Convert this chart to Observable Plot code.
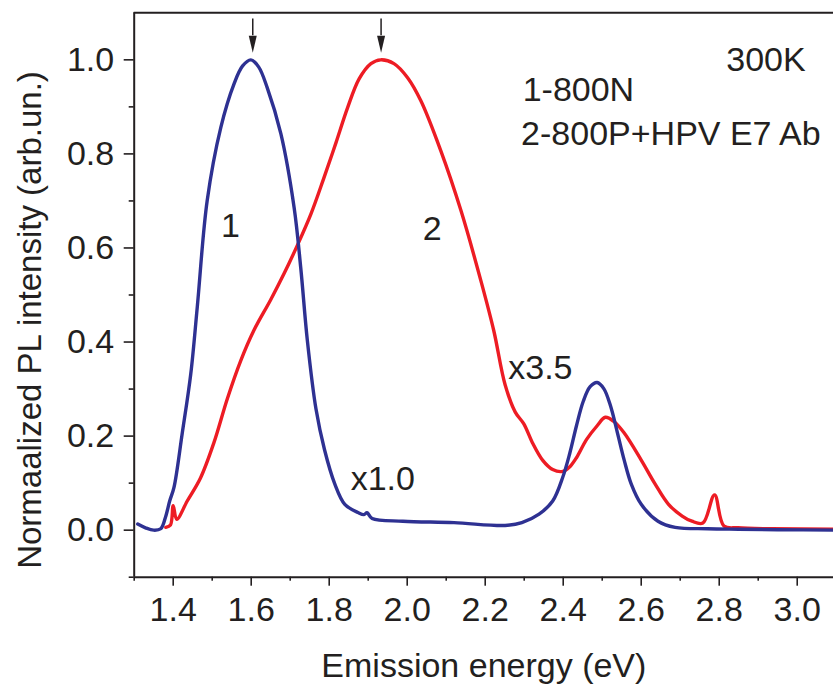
<!DOCTYPE html>
<html>
<head>
<meta charset="utf-8">
<script src="https://cdn.jsdelivr.net/npm/d3@7"></script>
<script src="https://cdn.jsdelivr.net/npm/@observablehq/plot@0.6"></script>
<style>
  html, body { margin: 0; padding: 0; background: #fff; }
  #chart svg { display: block; }
</style>
</head>
<body>
<div id="chart"></div>
<script>
// Curve 1 (800N), blue
const energy1 = [1.309,1.329,1.350,1.368,1.380,1.391,1.402,1.423,1.445,1.462,1.487,1.522,1.556,1.578,1.599,1.619,1.641,1.676,1.710,1.727,1.744,1.766,1.788,1.814,1.840,1.875,1.889,1.897,1.910,1.989,2.120,2.251,2.294,2.338,2.373,2.399,2.417,2.434,2.451,2.469,2.487,2.504,2.521,2.539,2.556,2.574,2.600,2.643,2.687,2.770,2.850,2.950,3.100];
const intensity1 = [0.013,0.005,0.000,0.003,0.027,0.062,0.091,0.205,0.332,0.477,0.700,0.856,0.949,0.987,1.000,0.985,0.941,0.843,0.686,0.558,0.403,0.258,0.171,0.099,0.055,0.037,0.033,0.037,0.025,0.019,0.016,0.010,0.016,0.034,0.062,0.113,0.164,0.222,0.273,0.305,0.314,0.301,0.265,0.207,0.150,0.099,0.055,0.019,0.006,0.003,0.002,0.001,0.000];

// Curve 2 (800P+HPV E7 Ab), red
const energy2 = [1.381,1.393,1.400,1.409,1.436,1.470,1.504,1.539,1.573,1.607,1.650,1.684,1.718,1.753,1.786,1.817,1.847,1.877,1.907,1.932,1.966,2.001,2.035,2.086,2.138,2.189,2.222,2.251,2.277,2.299,2.321,2.347,2.373,2.399,2.417,2.434,2.460,2.487,2.508,2.530,2.556,2.600,2.635,2.670,2.705,2.730,2.758,2.788,2.812,2.848,2.935,3.100];
const intensity2 = [0.006,0.011,0.052,0.023,0.062,0.111,0.185,0.280,0.360,0.425,0.490,0.545,0.605,0.672,0.748,0.823,0.898,0.960,0.992,1.000,0.992,0.962,0.913,0.807,0.679,0.530,0.424,0.309,0.251,0.226,0.186,0.149,0.129,0.125,0.135,0.154,0.193,0.222,0.240,0.231,0.207,0.149,0.099,0.055,0.030,0.019,0.015,0.075,0.009,0.005,0.003,0.002];

// Axis ticks
const xMajorTicks = [1.4,1.6,1.8,2.0,2.2,2.4,2.6,2.8,3.0];
const xMinorTicks = [1.3,1.5,1.7,1.9,2.1,2.3,2.5,2.7,2.9];
const yMajorTicks = [0.0,0.2,0.4,0.6,0.8,1.0];
const yMinorTicks = [-0.1,0.1,0.3,0.5,0.7,0.9];

// Annotations
const annText = ["300K","1-800N","2-800P+HPV E7 Ab","1","2","x3.5","x1.0"];
const annX = [2.818,2.296,2.292,1.547,2.064,2.259,1.855];
const annY = [0.999,0.935,0.843,0.647,0.641,0.345,0.109];
const annAnchor = ["start","start","start","middle","middle","start","start"];

// Peak arrows
const arrowX = [1.604,1.933];
const arrowTop = [1.087,1.087];
const arrowHeadBase = [1.051,1.051];

const s1 = energy1.map((e,i)=>({e, v: intensity1[i]}));
const s2 = energy2.map((e,i)=>({e, v: intensity2[i]}));
const ann = annText.map((t,i)=>({t, x: annX[i], y: annY[i], a: annAnchor[i]}));
const arrows = arrowX.map((x,i)=>({x, y1: arrowTop[i], y2: arrowHeadBase[i]}));

const FONT = "'Liberation Sans', Arial, Helvetica, sans-serif";
const INK = "#231f20";

const plot = Plot.plot({
  width: 833,
  height: 691,
  marginLeft: 133.7,
  marginRight: 0,
  marginTop: 12.3,
  marginBottom: 114.3,
  style: {fontFamily: FONT, fontSize: "34px", color: INK, background: "#fff"},
  x: {domain: [1.3, 3.093], label: null},
  y: {domain: [-0.1, 1.1], label: null},
  marks: [
    Plot.axisX({ticks: xMajorTicks, tickSize: 9, tickPadding: 11, tickFormat: d3.format(".1f"), label: null, strokeWidth: 1.6}),
    Plot.axisX({ticks: xMinorTicks, tickSize: 4, tickFormat: () => "", label: null, strokeWidth: 1.6}),
    Plot.axisY({ticks: yMajorTicks, tickSize: 10, tickPadding: 10, tickFormat: d3.format(".1f"), label: null, strokeWidth: 1.6}),
    Plot.axisY({ticks: yMinorTicks, tickSize: 5, tickFormat: () => "", label: null, strokeWidth: 1.6}),
    Plot.ruleX([1.3], {stroke: INK, strokeWidth: 2}),
    Plot.ruleY([-0.1, 1.1], {stroke: INK, strokeWidth: 2}),
    Plot.line(s2, {x: "e", y: "v", stroke: "#ed1c24", strokeWidth: 3.4, curve: "catmull-rom", clip: true}),
    Plot.line(s1, {x: "e", y: "v", stroke: "#2e3192", strokeWidth: 3.4, curve: "catmull-rom", clip: true}),
    Plot.ruleX(arrows, {x: "x", y1: "y1", y2: "y2", stroke: INK, strokeWidth: 1.5}),
    Plot.vector(arrows, {x: "x", y: "y2", length: 17, rotate: 180, shape: "spike", r: 4, anchor: "start", fill: INK, stroke: null}),
    Plot.text(ann.filter(d => d.a === "start"), {x: "x", y: "y", text: "t", textAnchor: "start", fill: INK, fontSize: 34}),
    Plot.text(ann.filter(d => d.a === "middle"), {x: "x", y: "y", text: "t", textAnchor: "middle", fill: INK, fontSize: 34}),
    Plot.text(["Emission energy (eV)"], {frameAnchor: "bottom", dy: 100, fontSize: 34, fill: INK, lineAnchor: "bottom", textAnchor: "middle"}),
    Plot.text(["Normaalized PL intensity (arb.un.)"], {frameAnchor: "left", dx: -104, dy: 25, rotate: -90, textAnchor: "middle", fontSize: 33, fill: INK})
  ]
});
document.getElementById("chart").appendChild(plot);
</script>
</body>
</html>
